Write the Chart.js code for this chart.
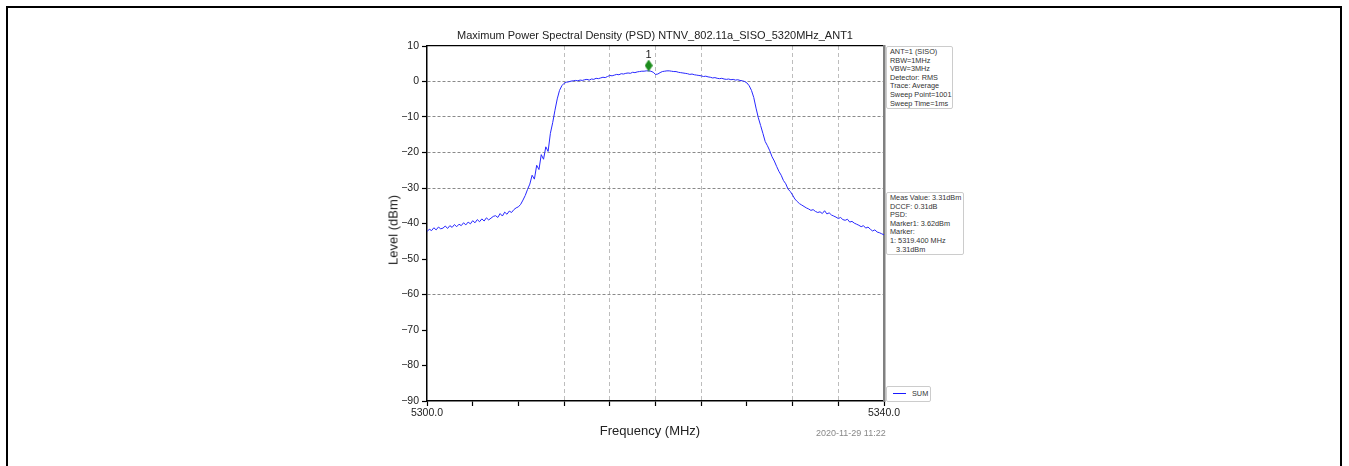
<!DOCTYPE html>
<html><head><meta charset="utf-8">
<script src="https://cdn.jsdelivr.net/npm/chart.js@4.4.0/dist/chart.umd.min.js"></script>
<style>
html,body{margin:0;padding:0;background:#fff;}
body{width:1349px;height:466px;position:relative;overflow:hidden;font-family:"Liberation Sans",Arial,sans-serif;}
#frame{position:absolute;left:6px;top:6px;width:1336px;height:480px;border:2px solid #000;box-sizing:border-box;}
#wrap{position:absolute;left:0;top:0;width:1349px;height:466px;}
.t{position:absolute;white-space:nowrap;color:#222;}
.box{position:absolute;border:1px solid #ccc;border-radius:2px;background:#fff;font-size:7.3px;line-height:8.6px;color:#333;padding:1px 0 0 3px;box-sizing:border-box;white-space:nowrap;overflow:hidden;}
</style></head><body>
<div id="frame"></div>
<div id="wrap"><canvas id="c" width="1349" height="466"></canvas></div>
<div class="t" style="left:655px;top:29px;transform:translateX(-50%);font-size:11px;">Maximum Power Spectral Density (PSD) NTNV_802.11a_SISO_5320MHz_ANT1</div>
<div class="t" style="left:393px;top:230px;transform:translate(-50%,-50%) rotate(-90deg);font-size:13px;">Level (dBm)</div>
<div class="t" style="left:650px;top:423px;transform:translateX(-50%);font-size:13px;">Frequency (MHz)</div>
<div class="t" style="left:816px;top:428px;font-size:9px;color:#888;">2020-11-29 11:22</div>
<div class="box" style="left:886px;top:46px;width:67px;height:63px;">ANT=1 (SISO)<br>RBW=1MHz<br>VBW=3MHz<br>Detector: RMS<br>Trace: Average<br>Sweep Point=1001<br>Sweep Time=1ms</div>
<div class="box" style="left:886px;top:192px;width:78px;height:63px;">Meas Value: 3.31dBm<br>DCCF: 0.31dB<br>PSD:<br>Marker1: 3.62dBm<br>Marker:<br>1: 5319.400 MHz<br>&nbsp;&nbsp;&nbsp;3.31dBm</div>
<div class="box" style="left:886px;top:386px;width:45px;height:16px;"><span style="position:absolute;left:6px;top:6px;width:13px;height:0;border-top:1.2px solid #1a1aff;"></span><span style="position:absolute;left:25px;top:3px;">SUM</span></div>
<script>
// ---- data ----
const freqStart = 5300;
const freqStep = 0.2;
const levels = [
 -42.3,-41.6,-42.0,-41.2,-41.8,-41.0,-41.5,-41.3,-40.7,-41.4,
 -40.6,-41.1,-40.3,-40.9,-40.2,-40.6,-39.8,-40.4,-39.6,-40.1,
 -39.2,-39.8,-38.9,-39.5,-38.7,-39.3,-38.4,-39.0,-38.5,-38.0,
 -37.8,-38.3,-37.2,-37.9,-36.8,-37.4,-36.5,-36.9,-36.1,-35.6,
 -35.3,-34.6,-33.4,-32.1,-30.4,-28.9,-26.4,-27.5,-23.6,-24.8,
 -20.6,-21.9,-18.4,-19.7,-14.6,-11.6,-8.1,-4.9,-2.5,-1.2,
 -0.5,-0.2,-0.1,0.1,0.2,0.3,0.2,0.4,0.3,0.5,
 0.6,0.4,0.7,0.6,0.9,0.8,1.0,1.2,1.1,1.4,
 1.7,1.6,1.8,2.0,1.9,2.2,2.1,2.3,2.4,2.3,
 2.6,2.5,2.7,2.8,2.9,2.9,3.0,3.0,2.9,2.6,
 2.0,2.1,2.5,2.8,2.9,3.0,3.0,2.9,2.8,2.8,
 2.6,2.5,2.4,2.3,2.2,2.0,2.1,1.9,1.8,1.7,
 1.6,1.4,1.5,1.3,1.2,1.0,1.1,0.9,0.8,0.9,
 0.7,0.6,0.7,0.5,0.6,0.4,0.5,0.3,0.2,0.0,
 -0.4,-1.2,-2.5,-4.5,-7.5,-10.2,-12.4,-14.6,-16.9,-18.1,
 -19.5,-21.2,-22.4,-23.9,-25.3,-26.4,-27.9,-28.8,-30.3,-31.0,
 -32.0,-33.1,-33.8,-34.4,-34.8,-35.2,-35.6,-35.9,-36.3,-36.1,
 -36.6,-36.9,-36.7,-37.2,-36.4,-37.3,-37.0,-37.6,-37.9,-38.2,
 -38.6,-38.3,-38.9,-39.1,-38.8,-39.6,-39.4,-39.9,-40.2,-40.5,
 -40.9,-40.6,-41.3,-41.0,-41.6,-42.1,-41.8,-42.4,-42.6,-42.9,
 -43.2
];
const markerFreq = [5319.4];
const markerLevel = [4.5];
const markerNames = ['1'];
const xLabelled = [5300, 5340];
const xGridAt = [5312, 5316, 5320, 5324, 5332, 5336];
const yGridAt = [0, -10, -20, -30, -60];

// ---- build ----
const trace = levels.map((v, i) => ({x: freqStart + i * freqStep, y: v}));
const markers = markerFreq.map((f, i) => ({x: f, y: markerLevel[i]}));

const dia = document.createElement('canvas');
dia.width = 8; dia.height = 12;
(function(){ const g = dia.getContext('2d'); g.fillStyle = '#1c8c1c'; g.beginPath();
  g.moveTo(4,0); g.lineTo(8,6); g.lineTo(4,12); g.lineTo(0,6); g.closePath(); g.fill(); })();

const markerLabel = {
  id: 'markerLabel',
  afterDatasetsDraw(chart) {
    const meta = chart.getDatasetMeta(0);
    const g = chart.ctx;
    g.save();
    g.font = '11px "Liberation Sans", Arial, sans-serif';
    g.fillStyle = '#222'; g.textAlign = 'center'; g.textBaseline = 'bottom';
    meta.data.forEach((p, i) => g.fillText(markerNames[i], p.x, p.y - 5));
    g.restore();
  }
};

const near = (arr, v) => arr.some(a => Math.abs(a - v) < 1e-6);

new Chart(document.getElementById('c'), {
  type: 'line',
  data: { datasets: [
    { label: 'Marker', data: markers, showLine: false, pointStyle: dia, pointRadius: 6, order: 0 },
    { label: 'SUM', data: trace, borderColor: '#2828ff', borderWidth: 1, pointRadius: 0, tension: 0, order: 1 }
  ]},
  options: {
    animation: false, responsive: false, maintainAspectRatio: false,
    layout: { padding: { left: 387, right: 465, top: 46, bottom: 40 } },
    plugins: { legend: { display: false }, tooltip: { enabled: false }, title: { display: false } },
    scales: {
      x: { type: 'linear', position: 'bottom', min: 5300, max: 5340,
        ticks: { stepSize: 4, autoSkip: false, maxRotation: 0, padding: 1,
          callback: v => near(xLabelled, v) ? v.toFixed(1) : '',
          font: { size: 10.5, family: '"Liberation Sans", Arial, sans-serif' }, color: '#222' },
        grid: { color: c => near(xGridAt, c.tick.value) ? '#bdbdbd' : 'rgba(0,0,0,0)', lineWidth: 1,
          tickColor: '#000', tickLength: 5, tickWidth: 1.2 },
        border: { color: '#000', width: 1.5, dash: [4, 3] },
        afterFit(s) { s.height = 25; } },
      y: { type: 'linear', position: 'left', min: -90, max: 10,
        ticks: { stepSize: 10, padding: 3, callback: v => v < 0 ? '\u2212' + Math.abs(v) : String(v),
          font: { size: 10.5, family: '"Liberation Sans", Arial, sans-serif' }, color: '#222' },
        grid: { color: c => near(yGridAt, c.tick.value) ? '#8a8a8a' : 'rgba(0,0,0,0)', lineWidth: 1,
          tickColor: '#000', tickLength: 5, tickWidth: 1.2 },
        border: { color: '#000', width: 1.5, dash: [3, 2] },
        afterFit(s) { s.width = 40; } },
      xTop: { type: 'linear', position: 'top', min: 5300, max: 5340,
        ticks: { display: false }, grid: { display: false, drawTicks: false },
        border: { color: '#000', width: 1.2 }, afterFit(s) { s.height = 0; } },
      yRight: { type: 'linear', position: 'right', min: -90, max: 10,
        ticks: { display: false }, grid: { display: false, drawTicks: false },
        border: { color: '#808080', width: 2.5 }, afterFit(s) { s.width = 0; } }
    }
  },
  plugins: [markerLabel]
});
</script>
</body></html>
